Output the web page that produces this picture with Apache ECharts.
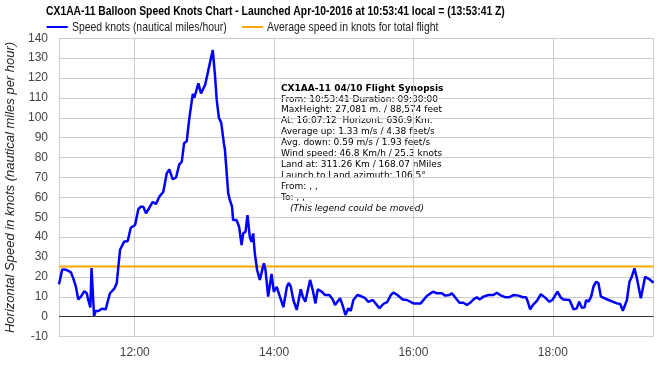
<!DOCTYPE html>
<html>
<head>
<meta charset="utf-8">
<script src="https://cdn.jsdelivr.net/npm/echarts@6/dist/echarts.min.js"></script>
<style>html,body{margin:0;padding:0;background:#fff}#c{width:658px;height:366px}</style>
</head>
<body>
<div id="c"></div>
<script>
const flightDate = '2016-04-10';
const times = ['10:54:48','10:57:36','11:00:00','11:02:48','11:05:06','11:07:06','11:09:12','11:10:18','11:11:24','11:13:42',
'11:16:36','11:18:42','11:20:00','11:21:48','11:22:48','11:25:00','11:26:24','11:28:48','11:31:36','11:35:00',
'11:36:42','11:38:42','11:42:24','11:44:30','11:45:54','11:47:24','11:48:48','11:50:48','11:54:00','11:56:36',
'12:00:18','12:03:06','12:05:12','12:07:24','12:09:42','12:12:36','12:15:30','12:18:18','12:21:12','12:24:36',
'12:27:36','12:29:48','12:32:42','12:35:36','12:38:24','12:40:30','12:42:30','12:44:48','12:47:00','12:50:00',
'12:51:18','12:54:48','12:57:06','13:00:36','13:03:24','13:07:12','13:09:12','13:10:36','13:12:30','13:14:30',
'13:16:48','13:17:42','13:20:30','13:21:54','13:23:48','13:24:42','13:27:36','13:29:54','13:32:00','13:33:24',
'13:35:24','13:37:06','13:39:06','13:40:36','13:42:00','13:43:24','13:45:24','13:47:42','13:49:12','13:51:12',
'13:52:36','13:54:54','13:57:48','13:59:48','14:02:18','14:04:30','14:08:00','14:11:00','14:12:36','14:14:24',
'14:16:36','14:19:30','14:23:00','14:24:42','14:26:54','14:31:00','14:33:18','14:35:36','14:37:36','14:41:00',
'14:43:54','14:47:36','14:50:30','14:52:30','14:54:30','14:56:48','14:59:12','15:01:24','15:04:00','15:06:00',
'15:08:18','15:11:42','15:14:42','15:18:24','15:21:12','15:25:00','15:27:48','15:30:42','15:34:06','15:37:36',
'15:40:30','15:42:42','15:46:12','15:50:48','15:54:18','16:00:00','16:06:18','16:11:30','16:16:42','16:20:06',
'16:24:24','16:27:18','16:31:00','16:33:00','16:35:00','16:39:36','16:43:00','16:46:00','16:48:48','16:51:42',
'16:54:36','16:56:48','17:00:18','17:04:36','17:08:54','17:11:48','17:14:36','17:18:54','17:22:36','17:26:06',
'17:30:24','17:34:12','17:37:00','17:38:30','17:40:30','17:42:54','17:46:18','17:49:42','17:53:24','17:57:06',
'18:00:00','18:04:00','18:06:54','18:09:06','18:10:30','18:14:24','18:17:48','18:20:36','18:22:42','18:25:00',
'18:27:18','18:28:42','18:30:42','18:33:00','18:35:00','18:37:18','18:39:18','18:41:24','18:48:00','18:55:12',
'18:58:00','19:00:18','19:03:48','19:06:00','19:08:00','19:10:18','19:12:24','19:15:48','19:19:30','19:23:12',
'19:26:42'];
const speedKnots = [16.3,23.8,23.8,23,22.3,19.3,15.4,14.6,8.7,10.1,
12.9,11.8,8.4,4.7,24.5,0.3,2.9,2.9,4,3.7,
7.5,11.8,14.1,16.8,25.1,33.7,34.4,37.7,38.1,44.7,
46.1,54.1,55.3,55.3,52,54.8,57.7,56.7,60.3,62.8,
72.1,74.1,69.1,70.1,76.6,77.9,87.2,88.3,99.7,112,
110.1,117.3,112.3,116.5,124,134.1,120.7,109,100,97.5,
87,83.8,62,58.7,55.3,48.6,48.6,45.2,36,41.9,
42.7,51.1,40.2,37.7,41.9,31.9,23.5,18.5,19.3,26.8,
23.5,10.1,21.5,12.5,15,11,4.8,15,17,15.1,
8.4,3.4,13.8,10.1,7.5,18.5,13.4,6.7,13.8,12.6,
10.9,10.9,8.7,5.9,7.5,9.3,5.4,0.9,4.2,2.9,
8.4,10.9,10.4,9.3,7.5,8.4,6.4,4.2,6.4,7.5,
10.9,12.1,10.9,8.7,8.4,6.7,6.7,10.4,12.6,11.8,
11.8,10.6,10.9,11.8,10.4,7,7,5.9,7,8.7,
9.8,8.7,10.1,10.9,10.9,12.1,10.9,9.8,9.8,10.9,
10.6,9.8,9.8,7.5,3.7,5.9,8,11.3,9.6,7.5,
8.7,12.6,9.6,8.7,9.6,8.4,3.7,4.2,7.5,4.5,
4.7,8.4,7.5,10.1,15.1,17.6,16.8,10.1,8.4,6.7,
6.4,3,8.4,17.6,20.1,24.3,19.3,9.3,20.1,18.8,
17.1];
const averageKnots = 25.3;
const yTicks = {min: -10, max: 140, step: 10};
const titleText = 'CX1AA-11 Balloon Speed Knots Chart - Launched Apr-10-2016 at 10:53:41 local = (13:53:41 Z)';
const seriesNames = ['Speed knots (nautical miles/hour)', 'Average speed in knots for total flight'];
const yAxisName = 'Horizontal Speed in knots (nautical miles per hour)';
const synopsisTitle = 'CX1AA-11 04/10 Flight Synopsis';
const synopsisLines = [
  'From: 10:53:41 Duration: 09:30:00',
  'MaxHeight: 27,081 m. / 88,574 feet',
  'At: 16:07:12  Horizont: 636.9 Km.',
  'Average up: 1.33 m/s / 4.38 feet/s',
  'Avg. down: 0.59 m/s / 1.93 feet/s',
  'Wind speed: 46.8 Km/h / 25.3 knots',
  'Land at: 311.26 Km / 168.07 nMiles',
  'Launch to Land azimuth: 106.5\u00b0',
  'From: , ,',
  'To: , ,'
];
const synopsisNote = '(This legend could be moved)';

const toTs = t => new Date(flightDate + 'T' + t).getTime();
const speedData = times.map((t, i) => [toTs(t), speedKnots[i]]);
const tMin = toTs(times[0]), tMax = toTs(times[times.length - 1]);
const avgData = [[tMin, averageKnots], [tMax, averageKnots]];
const pad = n => (n < 10 ? '0' : '') + n;
const HOUR = 3600 * 1000;
const narrowScale = 0.822;

const chart = echarts.init(document.getElementById('c'));
const synX = 281, synTop = 83.8, synDy = 10.9;
const graphics = [
  {
    type: 'text', x: 46, y: 12, scaleX: narrowScale,
    style: {text: titleText, x: 0, y: 0, align: 'left', verticalAlign: 'middle',
            font: 'bold 12.6px "Liberation Sans"', fill: '#000'}
  },
  {
    type: 'text', x: 72, y: 27, scaleX: narrowScale,
    style: {text: seriesNames[0], x: 0, y: 0, align: 'left', verticalAlign: 'middle',
            font: '12.7px "Liberation Sans"', fill: '#222'}
  },
  {
    type: 'text', x: 267, y: 27, scaleX: narrowScale,
    style: {text: seriesNames[1], x: 0, y: 0, align: 'left', verticalAlign: 'middle',
            font: '12.7px "Liberation Sans"', fill: '#222'}
  },
  {
    type: 'text', left: synX, top: synTop,
    style: {text: synopsisTitle, font: 'bold 9px "DejaVu Sans"', fill: '#000'}
  }
];
synopsisLines.forEach((s, i) => graphics.push({
  type: 'text', left: synX, top: synTop + (i + 1) * synDy,
  style: {text: s, font: '9px "DejaVu Sans"', fill: '#000'}
}));
graphics.push({
  type: 'text', left: synX + 9, top: synTop + 11 * synDy,
  style: {text: synopsisNote, font: 'italic 9px "DejaVu Sans"', fill: '#000'}
});

const legendCommon = {top: 26, padding: 0, itemWidth: 21, itemHeight: 2, icon: 'rect',
  formatter: () => '', textStyle: {fontSize: 1}, selectedMode: false};

chart.setOption({
  animation: false,
  textStyle: {fontFamily: 'Liberation Sans, Arial, sans-serif'},
  legend: [
    Object.assign({left: 46.7, data: [seriesNames[0]]}, legendCommon),
    Object.assign({left: 242, data: [seriesNames[1]]}, legendCommon)
  ],
  grid: {left: 59, right: 4.5, top: 38.3, bottom: 29.4, containLabel: false, outerBoundsMode: 'none'},
  xAxis: {
    type: 'time', min: tMin, max: tMax,
    minInterval: 2.5 * HOUR, maxInterval: 3 * HOUR, splitNumber: 4,
    axisLine: {show: false}, axisTick: {show: false},
    splitLine: {show: true, lineStyle: {color: '#ccc', width: 1}},
    axisLabel: {
      fontSize: 12, color: '#444', margin: 10, showMinLabel: false, showMaxLabel: false,
      formatter: v => { const d = new Date(v); return pad(d.getHours()) + ':' + pad(d.getMinutes()); }
    }
  },
  yAxis: {
    type: 'value', min: yTicks.min, max: yTicks.max, interval: yTicks.step,
    name: yAxisName, nameLocation: 'middle', nameGap: 40.5,
    nameTextStyle: {fontSize: 13, fontStyle: 'italic', color: '#222'},
    axisLine: {show: false}, axisTick: {show: false},
    splitLine: {lineStyle: {color: '#ccc', width: 1}},
    axisLabel: {fontSize: 12, color: '#444', margin: 11}
  },
  graphic: graphics,
  series: [
    {
      name: seriesNames[0], type: 'line', data: speedData, symbol: 'none',
      lineStyle: {color: '#0000ff', width: 2.5}, itemStyle: {color: '#0000ff'}, z: 3,
      markLine: {
        silent: true, symbol: 'none', label: {show: false}, animation: false,
        lineStyle: {color: '#333', width: 1, type: 'solid'},
        data: [{yAxis: 0}]
      }
    },
    {
      name: seriesNames[1], type: 'line', data: avgData, symbol: 'none',
      lineStyle: {color: '#ffa500', width: 2}, itemStyle: {color: '#ffa500'}, z: 2
    }
  ]
});
</script>
</body>
</html>
